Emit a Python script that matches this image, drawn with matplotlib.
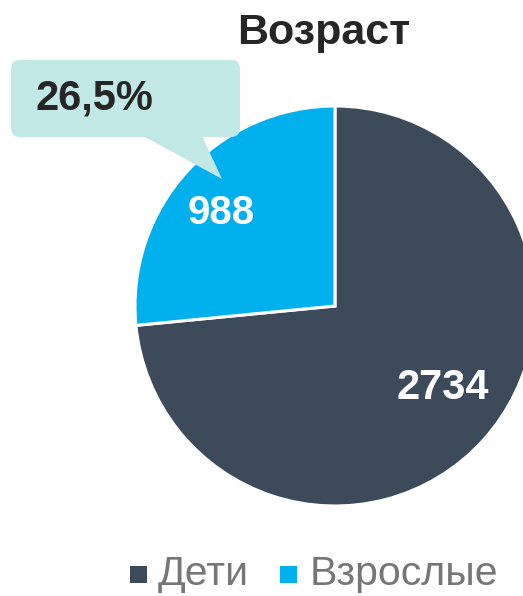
import matplotlib.pyplot as plt
from matplotlib.patches import FancyBboxPatch, Polygon, Rectangle

plt.rcParams['font.family'] = ['Liberation Sans', 'DejaVu Sans']

## Données
categories = ["Дети", "Взрослые"]
valeurs = [2734, 988]
couleurs = ["#3d4a5a", "#00b0ec"]
titre = "Возраст"

W, H = 523, 596

def Y(y):  # coordonnées image -> coordonnées axes (y vers le haut)
    return H - y

fig = plt.figure(figsize=(W/100, H/100), dpi=100)
ax = fig.add_axes([0, 0, 1, 1])

## Camembert
ax.pie(valeurs, colors=couleurs, startangle=90, counterclock=False,
       center=(335, Y(306)), radius=200, frame=True,
       wedgeprops=dict(edgecolor='white', linewidth=2.2))
ax.set_xlim(0, W)
ax.set_ylim(0, H)
ax.set_aspect('equal')
ax.axis('off')

# valeurs dans les parts
ax.text(443, Y(388), str(valeurs[0]), color='white', fontsize=30,
        fontweight='bold', ha='center', va='center')
ax.text(221, Y(213), str(valeurs[1]), color='white', fontsize=29,
        fontweight='bold', ha='center', va='center')

## Bulle avec le pourcentage d'adultes
bulle = "#c2e8e6"
ax.add_patch(FancyBboxPatch((11, Y(137)), 229, 77,
                            boxstyle="round,pad=0,rounding_size=9",
                            facecolor=bulle, edgecolor='none', zorder=3))
ax.add_patch(Polygon([(143, Y(136)), (202, Y(136)), (222, Y(179))],
                     closed=True, facecolor=bulle, edgecolor='none', zorder=3))
part = valeurs[1] / sum(valeurs) * 100
ax.text(94, Y(99), f"{part:.1f}%".replace('.', ','), color='#262626',
        fontsize=30, fontweight='bold', ha='center', va='center', zorder=4)

## Titre
ax.text(324, Y(44), titre, color='#262626', fontsize=31, fontweight='bold',
        ha='center', va='baseline')

## Légende
pos_carre = [130, 280]
pos_texte = [158, 310]
for cat, c, xc, xt in zip(categories, couleurs, pos_carre, pos_texte):
    ax.add_patch(Rectangle((xc, Y(583)), 17, 17, facecolor=c, edgecolor='none'))
    ax.text(xt, Y(585), cat, color='#767676', fontsize=29.5, ha='left',
            va='baseline')

fig.savefig('out.png', dpi=100)
